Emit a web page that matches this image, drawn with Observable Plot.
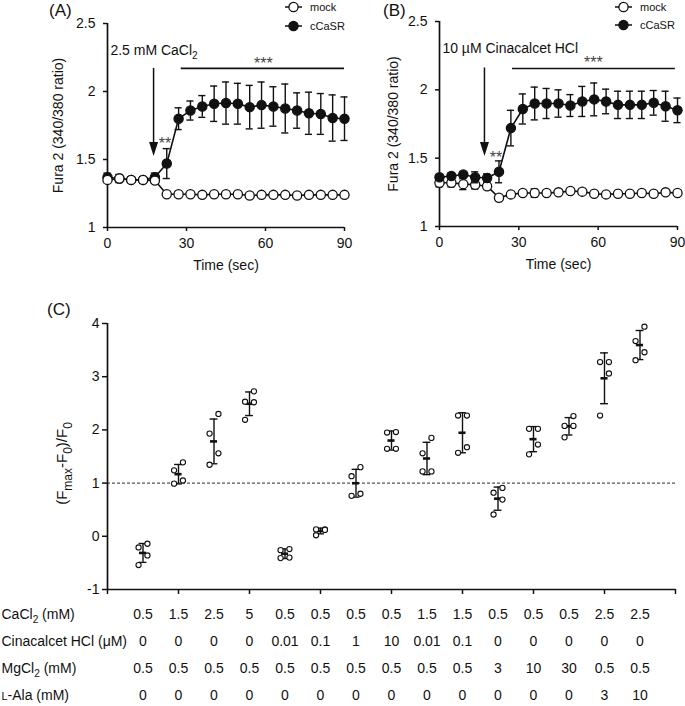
<!DOCTYPE html>
<html><head><meta charset="utf-8">
<script src="https://cdn.jsdelivr.net/npm/d3@7"></script>
<script src="https://cdn.jsdelivr.net/npm/@observablehq/plot@0.6"></script>
<style>
body{margin:0;background:#fff;}
#root{position:relative;width:685px;height:706px;overflow:hidden;font-family:"Liberation Sans",Arial,Helvetica,sans-serif;color:#111;}
#root > * {position:absolute;}
.plab{font-size:17px;line-height:17px;}
</style></head><body><div id="root"></div>
<script>
// ---------- data ----------
const time = [0,4.5,9,13.5,18,22.5,27,31.5,36,40.5,45,49.5,54,58.5,63,67.5,72,76.5,81,85.5,90];

// Panel A (2.5 mM CaCl2)
const aCcasr   = [1.37,1.36,1.35,1.35,1.37,1.47,1.80,1.86,1.89,1.91,1.915,1.91,1.885,1.90,1.89,1.875,1.86,1.84,1.835,1.805,1.80];
const aCcasrSd = [0.03,0.03,0.02,0.02,0.03,0.11,0.08,0.07,0.08,0.13,0.155,0.15,0.16,0.17,0.145,0.18,0.13,0.155,0.15,0.17,0.16];
const aMock    = [1.35,1.36,1.35,1.35,1.345,1.245,1.245,1.245,1.24,1.245,1.245,1.245,1.235,1.24,1.24,1.24,1.235,1.24,1.24,1.24,1.24];
const aMockSd  = [0.02,0.02,0.01,0.02,0.02,0.01,0.02,0.01,0.02,0.01,0.01,0.01,0.01,0.01,0.01,0.01,0.01,0.01,0.01,0.01,0.01];

// Panel B (10 µM Cinacalcet HCl)
const bCcasr   = [1.36,1.37,1.38,1.36,1.355,1.40,1.72,1.86,1.90,1.90,1.90,1.885,1.915,1.93,1.915,1.89,1.89,1.89,1.905,1.88,1.85];
const bCcasrSd = [0.02,0.02,0.02,0.04,0.03,0.08,0.13,0.11,0.12,0.11,0.10,0.08,0.11,0.12,0.09,0.10,0.10,0.10,0.09,0.11,0.09];
const bMock    = [1.32,1.32,1.31,1.305,1.295,1.21,1.235,1.245,1.245,1.245,1.25,1.26,1.255,1.24,1.235,1.24,1.24,1.245,1.24,1.25,1.245];
const bMockSd  = [0.03,0.03,0.04,0.03,0.02,0.02,0.01,0.01,0.03,0.01,0.01,0.01,0.02,0.01,0.01,0.01,0.01,0.01,0.01,0.01,0.01];

const yTicksAB = [1,1.5,2,2.5];
const xTicksAB = [0,30,60,90];

// Panel C: individual (Fmax-F0)/F0 values per condition (n = 4)
const responses = [
  [-0.14,-0.21,-0.36,-0.54],
  [1.39,1.24,1.05,0.99],
  [2.30,1.93,1.56,1.345],
  [2.725,2.53,2.52,2.19],
  [-0.24,-0.26,-0.40,-0.41],
  [0.13,0.13,0.12,0.02],
  [1.30,1.13,0.80,0.76],
  [1.96,1.95,1.645,1.645],
  [1.85,1.56,1.22,1.22],
  [2.27,2.27,1.675,1.57],
  [0.91,0.82,0.69,0.41],
  [2.02,2.02,1.725,1.54],
  [2.26,2.075,2.075,1.86],
  [3.275,3.275,3.06,2.27],
  [3.94,3.67,3.46,3.31]
];
const yTicksC = [-1,0,1,2,3,4];
const xTicksC = [0,2,4,6,8,10,12,14,16];
const threshold = 1;

// condition table
const rowLabels  = ["CaCl_{2} (mM)", "Cinacalcet HCl (μM)", "MgCl_{2} (mM)", "^sc{L}-Ala (mM)"];
const caCl2      = ["0.5","1.5","2.5","5","0.5","0.5","0.5","0.5","1.5","1.5","0.5","0.5","0.5","2.5","2.5"];
const cinacalcet = ["0","0","0","0","0.01","0.1","1","10","0.01","0.1","0","0","0","0","0"];
const mgCl2      = ["0.5","0.5","0.5","0.5","0.5","0.5","0.5","0.5","0.5","0.5","3","10","30","0.5","0.5"];
const lAla       = ["0","0","0","0","0","0","0","0","0","0","0","0","0","3","10"];

// annotations (data units)
const annA = {label:"2.5 mM CaCl_{2}", labelT:1.1, labelY:2.30, arrowT:17.5, arrowTop:2.17, arrowBottom:1.62, headY:1.577,
              sigY:2.17, sigT1:28, sigT2:90, starT:59.2, starY:2.205, dstarT:21.8, dstarY:1.618};
const annB = {label:"10 µM Cinacalcet HCl", labelT:1.1, labelY:2.30, arrowT:17, arrowTop:2.16, arrowBottom:1.61, headY:1.567,
              sigY:2.156, sigT1:27.6, sigT2:89.2, starT:58.2, starY:2.20, dstarT:21.4, dstarY:1.50};

// ---------- helpers ----------
const INK = "#111";
const FONT = '"Liberation Sans", Arial, Helvetica, sans-serif';
const downTri = {draw(ctx){ ctx.moveTo(-4.5,-7); ctx.lineTo(4.5,-7); ctx.lineTo(0,7); ctx.closePath(); }};

function subify(svg, fs, subScale = 0.72) {
  svg.querySelectorAll("text, tspan").forEach(t => {
    if (t.children.length) return;
    const s = t.textContent;
    if (!/(_\{|\^sc\{)/.test(s)) return;
    const f = parseFloat(t.getAttribute("font-size")) || parseFloat(t.parentNode.getAttribute("font-size")) || fs;
    t.textContent = "";
    const re = /_\{([^}]*)\}|\^sc\{([^}]*)\}/g;
    let last = 0, m, shift = 0;
    const add = (txt, attrs) => {
      const ts = document.createElementNS("http://www.w3.org/2000/svg", "tspan");
      ts.textContent = txt;
      for (const k in attrs) ts.setAttribute(k, attrs[k]);
      t.appendChild(ts);
    };
    while ((m = re.exec(s))) {
      if (m.index > last) { add(s.slice(last, m.index), shift ? {dy: -shift} : {}); shift = 0; }
      if (m[1] != null) { const d = f * 0.3; add(m[1], {"font-size": f * subScale, dy: d - shift}); shift = d; }
      else { add(m[2], Object.assign({"font-size": f * 0.78}, shift ? {dy: -shift} : {})); shift = 0; }
      last = re.lastIndex;
    }
    if (last < s.length) add(s.slice(last), shift ? {dy: -shift} : {});
  });
}

function timePanel(p) {
  const cc = time.map((t, i) => ({t, v: p.cc[i], sd: p.ccSd[i]}));
  const mk = time.map((t, i) => ({t, v: p.mk[i], sd: p.mkSd[i]}));
  const series = (d, fill) => [
    Plot.ruleX(d, {x: "t", y1: r => r.v - r.sd, y2: r => r.v + r.sd, stroke: INK, strokeWidth: 1.4}),
    Plot.ruleY(d, {y: r => r.v - r.sd, x1: r => r.t - 1.35, x2: r => r.t + 1.35, stroke: INK, strokeWidth: 1.4}),
    Plot.ruleY(d, {y: r => r.v + r.sd, x1: r => r.t - 1.35, x2: r => r.t + 1.35, stroke: INK, strokeWidth: 1.4}),
    Plot.line(d, {x: "t", y: "v", stroke: INK, strokeWidth: 1.6}),
    Plot.dot(d, {x: "t", y: "v", r: 4.6, fill, stroke: INK, strokeWidth: 1.3})
  ];
  const a = p.ann;
  const layers = p.mockOnTop ? [...series(cc, INK), ...series(mk, "white")] : [...series(mk, "white"), ...series(cc, INK)];
  return Plot.plot({
    width: p.width, height: 280, marginLeft: p.ml, marginRight: p.mr, marginTop: p.mt, marginBottom: p.mb,
    x: {domain: [0, 90]}, y: {domain: [1, 2.5]},
    style: {fontSize: "14px", fontFamily: FONT, color: INK, background: "transparent", overflow: "visible"},
    marks: [
      Plot.axisY({ticks: yTicksAB, tickSize: 4, tickPadding: 8, tickFormat: d => String(d), label: null, strokeWidth: 1.5}),
      Plot.axisX({ticks: xTicksAB, tickSize: 4, tickPadding: 7, tickFormat: d => String(d), label: null, strokeWidth: 1.5}),
      Plot.ruleX([0], {stroke: INK, strokeWidth: 1.7}),
      Plot.ruleY([1], {stroke: INK, strokeWidth: 1.7}),
      Plot.text(["Fura 2 (340/380 ratio)"], {text: d => d, frameAnchor: "left", textAnchor: "middle", lineAnchor: "middle", rotate: -90, dx: p.ylabDx}),
      Plot.text(["Time (sec)"], {text: d => d, frameAnchor: "bottom", lineAnchor: "middle", dy: 38}),
      ...layers,
      Plot.ruleX([a.arrowT], {y1: a.arrowTop, y2: a.arrowBottom, stroke: INK, strokeWidth: 1.5}),
      Plot.dot([a.arrowT], {x: d => d, y: a.headY, symbol: downTri, fill: INK, stroke: "none"}),
      Plot.text([a.label], {text: d => d, x: a.labelT, y: a.labelY, textAnchor: "start"}),
      Plot.ruleY([a.sigY], {x1: a.sigT1, x2: a.sigT2, stroke: INK, strokeWidth: 1.6}),
      Plot.text(["***"], {text: d => d, x: a.starT, y: a.starY, fill: "#444", fontSize: 16, letterSpacing: 2}),
      Plot.text(["**"], {text: d => d, x: a.dstarT, y: a.dstarY, fill: "#444", fontSize: 16, letterSpacing: 2})
    ]
  });
}

function legend(mockY, ccY, x0) {
  const svg = d3.create("svg").attr("width", 75).attr("height", 34).attr("style", "overflow:visible");
  [[mockY, "white", "mock"], [ccY, INK, "cCaSR"]].forEach(([y, fill, name]) => {
    svg.append("line").attr("x1", 2).attr("x2", 19).attr("y1", y).attr("y2", y).attr("stroke", INK).attr("stroke-width", 1.5);
    svg.append("circle").attr("cx", 10.5).attr("cy", y).attr("r", 4.6).attr("fill", fill).attr("stroke", INK).attr("stroke-width", 1.3);
    svg.append("text").attr("x", 27).attr("y", y).attr("dy", "0.35em").attr("font-size", 11).attr("font-family", FONT).attr("fill", INK).text(name);
  });
  const n = svg.node();
  n.style.left = x0 + "px"; n.style.top = "0px";
  return n;
}

const root = document.getElementById("root");

// Panel A
const pa = timePanel({cc: aCcasr, ccSd: aCcasrSd, mk: aMock, mkSd: aMockSd, width: 350, ml: 107, mr: 6, mt: 23, mb: 53, ylabDx: -49, ann: annA, mockOnTop: true});
pa.style.left = "0px"; pa.style.top = "0px";
root.appendChild(pa); subify(pa, 14);

// Panel B
const pb = timePanel({cc: bCcasr, ccSd: bCcasrSd, mk: bMock, mkSd: bMockSd, width: 345, ml: 99, mr: 8, mt: 21, mb: 54, ylabDx: -46, ann: annB, mockOnTop: false});
pb.style.left = "340px"; pb.style.top = "0px";
root.appendChild(pb); subify(pb, 14);

root.appendChild(legend(7, 26, 283));
root.appendChild(legend(7, 25, 613));

// Panel C
const pts = [];
responses.forEach((vals, gi) => {
  const order = d3.range(vals.length).sort((a, b) => vals[b] - vals[a]);
  order.forEach((idx, rank) => pts.push({g: gi + 1, v: vals[idx], side: rank % 2 === 0 ? 1 : -1}));
});
const stats = responses.map((vals, gi) => ({g: gi + 1, m: d3.mean(vals), sd: d3.deviation(vals)}));

const pc = Plot.plot({
  width: 685, height: 320, marginLeft: 107, marginRight: 10, marginTop: 43, marginBottom: 11,
  x: {domain: [0, 16]}, y: {domain: [-1, 4]},
  style: {fontSize: "14px", fontFamily: FONT, color: INK, background: "transparent", overflow: "visible"},
  marks: [
    Plot.ruleY([threshold], {stroke: INK, strokeWidth: 0.9, strokeDasharray: "3,2"}),
    Plot.axisY({ticks: yTicksC, tickSize: 5, tickPadding: 3, tickFormat: d => String(d), label: null, strokeWidth: 1.5}),
    Plot.axisX({ticks: xTicksC, tickSize: 5, tickFormat: () => "", label: null, strokeWidth: 1.5}),
    Plot.ruleX([0], {stroke: INK, strokeWidth: 1.7}),
    Plot.ruleY([-1], {stroke: INK, strokeWidth: 1.7}),
    Plot.text(["(F_{max}-F_{0})/F_{0}"], {text: d => d, frameAnchor: "left", textAnchor: "middle", lineAnchor: "middle", rotate: -90, dx: -45, dy: 7, fontSize: 15}),
    Plot.ruleX(stats, {x: "g", y1: d => d.m - d.sd, y2: d => d.m + d.sd, stroke: INK, strokeWidth: 1.4}),
    Plot.ruleY(stats, {y: d => d.m - d.sd, x1: d => d.g - 0.11, x2: d => d.g + 0.11, stroke: INK, strokeWidth: 1.4}),
    Plot.ruleY(stats, {y: d => d.m + d.sd, x1: d => d.g - 0.11, x2: d => d.g + 0.11, stroke: INK, strokeWidth: 1.4}),
    Plot.ruleY(stats, {y: "m", x1: d => d.g - 0.1, x2: d => d.g + 0.1, stroke: INK, strokeWidth: 2.6}),
    Plot.dot(pts, {x: d => d.g + d.side * 0.125, y: "v", r: 2.6, fill: "white", stroke: INK, strokeWidth: 1.1})
  ]
});
pc.style.left = "0px"; pc.style.top = "280px";
root.appendChild(pc); subify(pc, 14, 0.8);

// Condition table
const cells = [];
[caCl2, cinacalcet, mgCl2, lAla].forEach((arr, ri) => arr.forEach((val, gi) => cells.push({g: gi + 1, row: rowLabels[ri], val})));
const pd = Plot.plot({
  width: 685, height: 106, marginLeft: 107, marginRight: 10, marginTop: 14, marginBottom: 11,
  x: {domain: [0, 16], axis: null}, y: {type: "point", domain: rowLabels, padding: 0, axis: null},
  style: {fontSize: "14px", fontFamily: FONT, color: INK, background: "transparent", overflow: "visible"},
  marks: [
    Plot.text(rowLabels, {text: d => d, y: d => d, frameAnchor: "left", textAnchor: "start", dx: -106}),
    Plot.text(cells, {x: "g", y: "row", text: "val"})
  ]
});
pd.style.left = "0px"; pd.style.top = "600px";
root.appendChild(pd); subify(pd, 14);

// panel letters
[["(A)", 49, 2], ["(B)", 383, 2], ["(C)", 47, 301]].forEach(([t, x, y]) => {
  const d = document.createElement("div");
  d.className = "plab"; d.textContent = t; d.style.left = x + "px"; d.style.top = y + "px";
  root.appendChild(d);
});
</script></body></html>
